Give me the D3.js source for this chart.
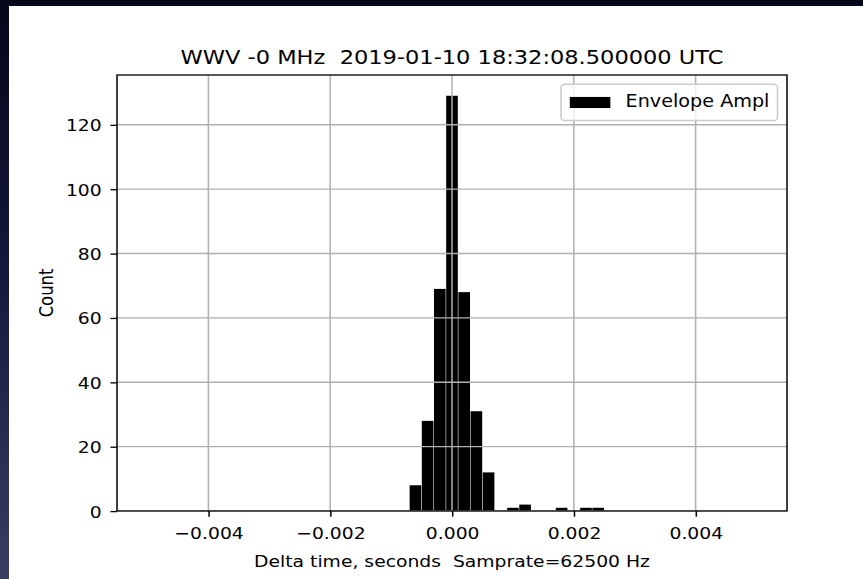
<!DOCTYPE html>
<html>
<head>
<meta charset="utf-8">
<script src="https://cdn.jsdelivr.net/npm/d3@7"></script>
<style>
  html, body { margin: 0; padding: 0; background: #07071a; }
  svg { display: block; }
  text { font-family: "DejaVu Sans", "Liberation Sans", sans-serif; fill: #000; }
</style>
</head>
<body>
<svg id="chart" width="863" height="579"></svg>
<script>
// Histogram of envelope-amplitude timing offsets (bin centers in seconds, counts per bin)
const binCenters = [-0.0006, -0.0004, -0.0002, 0.0, 0.0002, 0.0004, 0.0006,
                    0.0008, 0.0010, 0.0012, 0.0014, 0.0016, 0.0018, 0.0020, 0.0022, 0.0024];
const counts     = [8, 28, 69, 129, 68, 31, 12,
                    0, 1, 2, 0, 0, 1, 0, 1, 1];
const binWidth = 0.0002;

const xTicks = [-0.004, -0.002, 0, 0.002, 0.004];
const yTicks = [0, 20, 40, 60, 80, 100, 120];

const titleText  = "WWV -0 MHz  2019-01-10 18:32:08.500000 UTC";
const xLabelText = "Delta time, seconds  Samprate=62500 Hz";
const yLabelText = "Count";
const legendLabel = "Envelope Ampl";

const svg = d3.select("#chart");

// backdrop and page
const defs = svg.append("defs");
const grad = defs.append("linearGradient").attr("id", "bg")
  .attr("x1", 0).attr("y1", 0).attr("x2", 0).attr("y2", 1);
grad.append("stop").attr("offset", "0%").attr("stop-color", "#06061a");
grad.append("stop").attr("offset", "45%").attr("stop-color", "#14163a");
grad.append("stop").attr("offset", "100%").attr("stop-color", "#3a3c60");
svg.append("rect").attr("width", 863).attr("height", 579).attr("fill", "url(#bg)");
svg.append("rect").attr("x", 9).attr("y", 6).attr("width", 854).attr("height", 573).attr("fill", "#fff");

// figure drawn in 640x480 units, then stretched onto the page
const fig = svg.append("g").attr("transform", "translate(8.94,7.05) scale(1.3508,1.1797)");

const fs = 13.89;          // 10pt
const lw = 1.11;           // 0.8pt
const ax = { left: 80, right: 576, top: 57.6, bottom: 427.2 };

const x = d3.scaleLinear().domain([-0.0055, 0.0055]).range([ax.left, ax.right]);
const y = d3.scaleLinear().domain([0, d3.max(counts) * 1.05]).range([ax.bottom, ax.top]);

const clip = defs.append("clipPath").attr("id", "axclip");
clip.append("rect").attr("x", ax.left).attr("y", ax.top)
  .attr("width", ax.right - ax.left).attr("height", ax.bottom - ax.top);

const plot = fig.append("g").attr("clip-path", "url(#axclip)");

// bars
const bins = binCenters.map((c, i) => ({ c, n: counts[i] })).filter(d => d.n > 0);
plot.selectAll("rect.bar").data(bins).join("rect")
  .attr("class", "bar")
  .attr("x", d => x(d.c - binWidth / 2) + 0.2)
  .attr("width", d => x(d.c + binWidth / 2) - x(d.c - binWidth / 2) - 0.4)
  .attr("y", d => y(d.n))
  .attr("height", d => y(0) - y(d.n))
  .attr("fill", "#000");

// grid (drawn over the bars)
plot.selectAll("line.gx").data(xTicks).join("line")
  .attr("x1", d => x(d)).attr("x2", d => x(d))
  .attr("y1", ax.top).attr("y2", ax.bottom)
  .attr("stroke", "#b0b0b0").attr("stroke-width", lw);
plot.selectAll("line.gy").data(yTicks).join("line")
  .attr("y1", d => y(d)).attr("y2", d => y(d))
  .attr("x1", ax.left).attr("x2", ax.right)
  .attr("stroke", "#b0b0b0").attr("stroke-width", lw);

// axes via d3 axis generators
const fmtX = v => d3.format(".3f")(v).replace("-", "\u2212");
const xAxis = d3.axisBottom(x).tickValues(xTicks).tickFormat(fmtX).tickSizeInner(4.86).tickSizeOuter(0).tickPadding(4.86);
const yAxis = d3.axisLeft(y).tickValues(yTicks).tickFormat(d3.format("d")).tickSizeInner(4.86).tickSizeOuter(0).tickPadding(4.86);

const gx = fig.append("g").attr("transform", `translate(0,${ax.bottom})`).call(xAxis);
const gy = fig.append("g").attr("transform", `translate(${ax.left},0)`).call(yAxis);
[gx, gy].forEach(g => {
  g.select(".domain").remove();
  g.selectAll(".tick line").attr("stroke", "#000").attr("stroke-width", lw);
  g.selectAll(".tick text").attr("font-size", fs)
    .attr("font-family", "DejaVu Sans").attr("fill", "#000");
});
gx.selectAll(".tick text").attr("dy", null).attr("y", 23.3);
gy.selectAll(".tick text").attr("x", -11.3).attr("dy", "0.36em");

// spines
fig.append("rect").attr("x", ax.left).attr("y", ax.top)
  .attr("width", ax.right - ax.left).attr("height", ax.bottom - ax.top)
  .attr("fill", "none").attr("stroke", "#000").attr("stroke-width", lw);

// title and axis labels
fig.append("text").attr("x", (ax.left + ax.right) / 2).attr("y", 48)
  .attr("text-anchor", "middle").attr("font-size", 16.67)
  .attr("xml:space", "preserve").style("white-space", "pre")
  .text(titleText);
fig.append("text").attr("x", (ax.left + ax.right) / 2).attr("y", 474.5)
  .attr("text-anchor", "middle").attr("font-size", fs)
  .attr("xml:space", "preserve").style("white-space", "pre")
  .text(xLabelText);
fig.append("text")
  .attr("transform", `translate(32.4,${(ax.top + ax.bottom) / 2}) rotate(-90)`)
  .attr("text-anchor", "middle").attr("font-size", fs)
  .text(yLabelText);

// legend, upper right
const leg = fig.append("g");
const legFrame = leg.append("rect");
const legSwatch = leg.append("rect");
const legText = leg.append("text").attr("font-size", 14.2).text(legendLabel);
const textLen = legText.node().getComputedTextLength();
const boxRight = ax.right - 7, boxTop = ax.top + 7.9, boxBottom = ax.top + 38.6;
const textStart = boxRight - 6 - textLen;
const swRight = textStart - 11.3, swLeft = swRight - 30;
const boxLeft = swLeft - 6.5;
legFrame.attr("x", boxLeft).attr("y", boxTop)
  .attr("width", boxRight - boxLeft).attr("height", boxBottom - boxTop)
  .attr("rx", 2.8).attr("ry", 2.8)
  .attr("fill", "#fff").attr("fill-opacity", 0.8)
  .attr("stroke", "#cccccc").attr("stroke-width", 1.2);
legSwatch.attr("x", swLeft).attr("y", ax.top + 18.6)
  .attr("width", swRight - swLeft).attr("height", 9.4).attr("fill", "#000");
legText.attr("x", textStart).attr("y", ax.top + 27.3);
</script>
</body>
</html>
